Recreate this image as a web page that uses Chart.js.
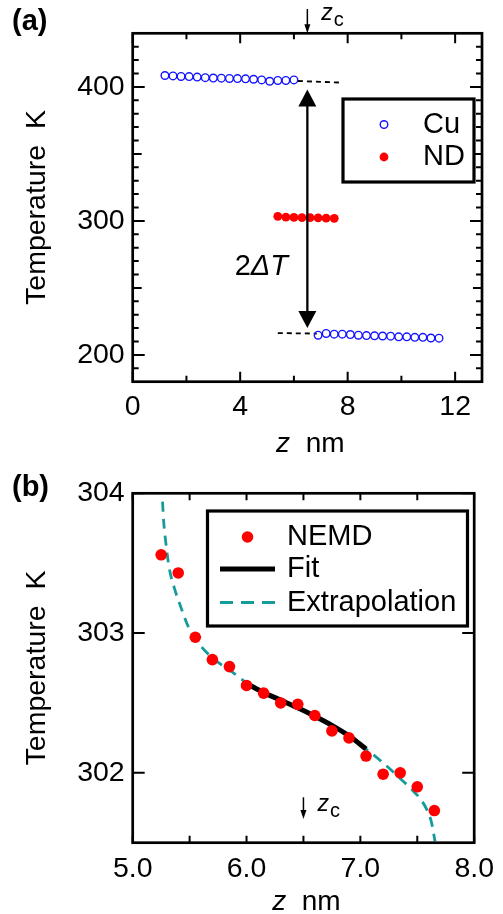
<!DOCTYPE html>
<html>
<head>
<meta charset="utf-8">
<script src="https://cdn.jsdelivr.net/npm/chart.js@4/dist/chart.umd.min.js"></script>
<style>
  html, body { margin: 0; padding: 0; background: #fff; }
  canvas { display: block; }
</style>
</head>
<body>
<canvas id="ca" width="503" height="460"></canvas>
<canvas id="cb" width="503" height="454"></canvas>
<script>
// ---------------- data: panel (a) ----------------
const cuLeftZ  = [1.2, 1.5, 1.8, 2.1, 2.4, 2.7, 3.0, 3.3, 3.6, 3.9, 4.2, 4.5, 4.8, 5.1, 5.4, 5.7, 6.0];
const cuLeftT  = [408.5, 408.2, 407.8, 407.7, 407.3, 406.9, 406.6, 406.5, 406.3, 406.2, 406.0, 405.7, 405.2, 404.2, 404.8, 404.8, 405.2];
const cuRightZ = [6.9, 7.2, 7.5, 7.8, 8.1, 8.4, 8.7, 9.0, 9.3, 9.6, 9.9, 10.2, 10.5, 10.8, 11.1, 11.4];
const cuRightT = [214.7, 216.0, 215.5, 215.5, 215.2, 214.7, 214.4, 214.2, 214.1, 214.0, 213.5, 213.5, 213.1, 213.1, 212.6, 212.5];
const ndZa = [5.4, 5.7, 6.0, 6.3, 6.6, 6.9, 7.2, 7.5];
const ndTa = [303.4, 302.8, 302.6, 302.5, 302.4, 302.3, 302.0, 301.9];
const guideUpZ = [6.15, 7.8];
const guideUpT = [404.4, 403.2];
const guideLoZ = [5.4, 6.85];
const guideLoT = [216.3, 215.9];
const zc = 6.5;
const gapArrowT = [398, 220];         // tips of the 2ΔT double arrow

const xTicksA = [0, 4, 8, 12];
const xMinorA = [2, 6, 10];
const yTicksA = [200, 300, 400];
const yMidA   = [250, 350];
const yMinorA = [190, 210, 220, 230, 240, 260, 270, 280, 290, 310, 320, 330, 340, 360, 370, 380, 390, 410, 420, 430];

// ---------------- data: panel (b) ----------------
const nemdZ = [5.25, 5.40, 5.55, 5.70, 5.85, 6.00, 6.15, 6.30, 6.45, 6.60, 6.75, 6.90, 7.05, 7.20, 7.35, 7.50, 7.65];
const nemdT = [303.56, 303.43, 302.97, 302.81, 302.76, 302.625, 302.57, 302.50, 302.49, 302.41, 302.30, 302.25, 302.12, 301.99, 302.00, 301.90, 301.73];
const fitZ = [6.0, 6.15, 6.3, 6.45, 6.6, 6.75, 6.9, 7.05];
const fitT = [302.64, 302.575, 302.52, 302.465, 302.405, 302.34, 302.265, 302.17];
const extZ = [5.262, 5.271, 5.292, 5.32, 5.363, 5.421, 5.492, 5.606, 5.721, 5.893, 6.007, 6.15, 6.3, 6.45, 6.6, 6.75, 6.9, 7.05, 7.18, 7.35, 7.44, 7.525, 7.582, 7.625, 7.656];
const extT = [303.94, 303.81, 303.64, 303.47, 303.33, 303.19, 303.04, 302.90, 302.81, 302.71, 302.64, 302.575, 302.52, 302.465, 302.405, 302.34, 302.265, 302.17, 302.085, 301.96, 301.89, 301.815, 301.74, 301.645, 301.51];
const zcArrowTb = [301.825, 301.67];

const xTicksB = [5, 6, 7, 8];
const xTickTextB = ['5.0', '6.0', '7.0', '8.0'];
const xMinorB = [5.5, 6.5, 7.5];
const yTicksB = [302, 303, 304];

// ---------------- styling ----------------
const FONT = "'Liberation Sans', Arial, Helvetica, sans-serif";
const BLUE = '#1414ff';
const RED = '#ff0000';
const TEAL = '#169b9b';
const pts = (xs, ys) => xs.map((x, i) => ({ x: x, y: ys[i] }));

function arrowHead(ctx, x, yTip, dir, w, l) {
  ctx.beginPath();
  ctx.moveTo(x, yTip);
  ctx.lineTo(x - w / 2, yTip - dir * l);
  ctx.lineTo(x + w / 2, yTip - dir * l);
  ctx.closePath();
  ctx.fill();
}

function drawFrameTicks(chart, spec) {
  const { ctx, chartArea: ca, scales: { x, y } } = chart;
  ctx.save();
  ctx.strokeStyle = '#000';
  ctx.lineWidth = 2;
  const vt = (v, len) => {
    const px = x.getPixelForValue(v);
    ctx.beginPath();
    ctx.moveTo(px, ca.bottom); ctx.lineTo(px, ca.bottom - len);
    ctx.moveTo(px, ca.top); ctx.lineTo(px, ca.top + len);
    ctx.stroke();
  };
  const ht = (v, len) => {
    const py = y.getPixelForValue(v);
    ctx.beginPath();
    ctx.moveTo(ca.left, py); ctx.lineTo(ca.left + len, py);
    ctx.moveTo(ca.right, py); ctx.lineTo(ca.right - len, py);
    ctx.stroke();
  };
  spec.xMajor.forEach(v => vt(v, spec.xMajorLen));
  spec.xMinor.forEach(v => vt(v, spec.xMinorLen));
  spec.yMajor.forEach(v => ht(v, spec.yMajorLen));
  (spec.yMid || []).forEach(v => ht(v, spec.yMidLen));
  (spec.yMinor || []).forEach(v => ht(v, spec.yMinorLen));
  ctx.lineWidth = 2.7;
  ctx.strokeRect(ca.left, ca.top, ca.right - ca.left, ca.bottom - ca.top);
  ctx.restore();
}

function drawXTitle(chart, baseline) {
  const { ctx, chartArea: ca } = chart;
  ctx.save();
  ctx.fillStyle = '#000';
  ctx.textBaseline = 'alphabetic';
  ctx.textAlign = 'left';
  ctx.font = 'italic 28px ' + FONT;
  const wz = ctx.measureText('z').width;
  ctx.font = '28px ' + FONT;
  const wn = ctx.measureText('  nm').width;
  const x0 = (ca.left + ca.right) / 2 + 3 - (wz + wn) / 2;
  ctx.font = 'italic 28px ' + FONT;
  ctx.fillText('z', x0, baseline);
  ctx.font = '28px ' + FONT;
  ctx.fillText('  nm', x0 + wz, baseline);
  ctx.restore();
}

function drawZc(ctx, x, baseline) {
  ctx.save();
  ctx.fillStyle = '#000';
  ctx.textAlign = 'left';
  ctx.textBaseline = 'alphabetic';
  ctx.font = 'italic 23px ' + FONT;
  ctx.fillText('z', x, baseline);
  const w = ctx.measureText('z').width;
  ctx.font = '20px ' + FONT;
  ctx.fillText('c', x + w + 1, baseline + 6);
  ctx.restore();
}

function baseScale(extra) {
  return Object.assign({
    type: 'linear',
    grid: { display: false, drawTicks: false },
    border: { display: false },
  }, extra);
}

// ---------------- panel (a) ----------------
const decoA = {
  id: 'decoA',
  afterDatasetsDraw(chart) {
    const { ctx, scales: { x, y } } = chart;
    // 2ΔT double arrow
    const ax = x.getPixelForValue(zc);
    const yTop = y.getPixelForValue(gapArrowT[0]);
    const yBot = y.getPixelForValue(gapArrowT[1]);
    ctx.save();
    ctx.strokeStyle = '#000'; ctx.fillStyle = '#000';
    ctx.lineWidth = 2.3;
    ctx.beginPath(); ctx.moveTo(ax, yTop + 14); ctx.lineTo(ax, yBot - 14); ctx.stroke();
    arrowHead(ctx, ax, yTop, -1, 18, 17);
    arrowHead(ctx, ax, yBot, 1, 18, 17);
    ctx.restore();
  },
  afterDraw(chart) {
    const { ctx, chartArea: ca, scales: { x, y } } = chart;
    drawFrameTicks(chart, {
      xMajor: xTicksA, xMinor: xMinorA, xMajorLen: 10, xMinorLen: 6,
      yMajor: yTicksA, yMid: yMidA, yMinor: yMinorA, yMajorLen: 12, yMidLen: 9, yMinorLen: 6
    });
    drawXTitle(chart, 452);
    ctx.save();
    ctx.fillStyle = '#000';
    // panel label
    ctx.font = 'bold 29px ' + FONT;
    ctx.textAlign = 'left'; ctx.textBaseline = 'alphabetic';
    ctx.fillText('(a)', 12, 30);
    // 2ΔT text
    const tx = x.getPixelForValue(5.78);
    const ty = y.getPixelForValue(260);
    ctx.font = 'italic 29px ' + FONT;
    const wd = ctx.measureText('ΔT').width;
    ctx.textAlign = 'right';
    ctx.fillText('ΔT', tx, ty);
    ctx.font = '29px ' + FONT;
    ctx.fillText('2', tx - wd, ty);
    // z_c marker at top
    const ax = x.getPixelForValue(zc);
    ctx.strokeStyle = '#000'; ctx.lineWidth = 1.5;
    ctx.beginPath(); ctx.moveTo(ax, 9); ctx.lineTo(ax, ca.top - 6); ctx.stroke();
    arrowHead(ctx, ax, ca.top, 1, 6, 9);
    ctx.restore();
    drawZc(ctx, ax + 14, 20);
    // legend
    ctx.save();
    ctx.fillStyle = '#fff';
    ctx.fillRect(343, 99, 131, 83);
    ctx.strokeStyle = '#000'; ctx.lineWidth = 3.2;
    ctx.strokeRect(343, 99, 131, 83);
    const ds = chart.data.datasets;
    ctx.beginPath(); ctx.arc(384, 124.5, ds[0].pointRadius, 0, Math.PI * 2);
    ctx.strokeStyle = ds[0].borderColor; ctx.lineWidth = ds[0].borderWidth; ctx.stroke();
    ctx.beginPath(); ctx.arc(384, 157, ds[2].pointRadius, 0, Math.PI * 2);
    ctx.fillStyle = ds[2].backgroundColor; ctx.fill();
    ctx.fillStyle = '#000';
    ctx.font = '29px ' + FONT; ctx.textAlign = 'left'; ctx.textBaseline = 'middle';
    ctx.fillText(ds[0].label, 423, 124.5);
    ctx.fillText(ds[2].label, 423, 156.5);
    ctx.restore();
  }
};

new Chart(document.getElementById('ca'), {
  type: 'scatter',
  data: {
    datasets: [
      { label: 'Cu', data: pts(cuLeftZ, cuLeftT), pointRadius: 3.8, borderWidth: 1.4, borderColor: BLUE, backgroundColor: 'rgba(255,255,255,0)', showLine: false },
      { label: 'Cu ', data: pts(cuRightZ, cuRightT), pointRadius: 3.8, borderWidth: 1.4, borderColor: BLUE, backgroundColor: 'rgba(255,255,255,0)', showLine: false },
      { label: 'ND', data: pts(ndZa, ndTa), pointRadius: 4.4, borderWidth: 0, borderColor: RED, backgroundColor: RED, showLine: false },
      { label: 'guide1', data: pts(guideUpZ, guideUpT), showLine: true, pointRadius: 0, borderColor: '#000', borderWidth: 1.8, borderDash: [5, 4] },
      { label: 'guide2', data: pts(guideLoZ, guideLoT), showLine: true, pointRadius: 0, borderColor: '#000', borderWidth: 1.8, borderDash: [5, 4] }
    ]
  },
  options: {
    responsive: false,
    animation: false,
    devicePixelRatio: 1,
    layout: { padding: { left: 0, top: 33.3, right: 21, bottom: 0 } },
    plugins: { legend: { display: false }, tooltip: { enabled: false } },
    scales: {
      x: baseScale({
        min: 0, max: 13,
        afterBuildTicks: s => { s.ticks = xTicksA.map(v => ({ value: v })); },
        afterFit: s => { s.height = 78.3; },
        ticks: { font: { family: FONT, size: 28.5 }, color: '#000', padding: 8, maxRotation: 0, autoSkip: false },
        title: { display: false }
      }),
      y: baseScale({
        min: 180, max: 440,
        afterBuildTicks: s => { s.ticks = yTicksA.map(v => ({ value: v })); },
        afterFit: s => { s.width = 132.7; },
        ticks: { font: { family: FONT, size: 28.5 }, color: '#000', padding: 8, autoSkip: false },
        title: { display: true, text: 'Temperature  K', color: '#000', font: { family: FONT, size: 28.5 }, padding: { top: 20.5, bottom: 0 } }
      })
    }
  },
  plugins: [decoA]
});

// ---------------- panel (b) ----------------
const decoB = {
  id: 'decoB',
  afterDraw(chart) {
    const { ctx, scales: { x, y } } = chart;
    drawFrameTicks(chart, {
      xMajor: xTicksB, xMinor: xMinorB, xMajorLen: 7, xMinorLen: 7,
      yMajor: yTicksB, yMajorLen: 12
    });
    drawXTitle(chart, 450);
    ctx.save();
    ctx.fillStyle = '#000';
    ctx.font = 'bold 29px ' + FONT;
    ctx.textAlign = 'left'; ctx.textBaseline = 'alphabetic';
    ctx.fillText('(b)', 12, 36);
    // z_c marker
    const ax = x.getPixelForValue(zc);
    const y0 = y.getPixelForValue(zcArrowTb[0]);
    const y1 = y.getPixelForValue(zcArrowTb[1]);
    ctx.strokeStyle = '#000'; ctx.lineWidth = 1.5;
    ctx.beginPath(); ctx.moveTo(ax, y0); ctx.lineTo(ax, y1 - 6); ctx.stroke();
    arrowHead(ctx, ax, y1, 1, 6, 9);
    ctx.restore();
    drawZc(ctx, ax + 14, 351);
    // legend
    const ds = chart.data.datasets;
    ctx.save();
    ctx.fillStyle = '#fff';
    ctx.fillRect(207.5, 51, 260, 115);
    ctx.strokeStyle = '#000'; ctx.lineWidth = 3.2;
    ctx.strokeRect(207.5, 51, 260, 115);
    ctx.beginPath(); ctx.arc(247.5, 77, ds[0].pointRadius, 0, Math.PI * 2);
    ctx.fillStyle = ds[0].backgroundColor; ctx.fill();
    ctx.strokeStyle = ds[1].borderColor; ctx.lineWidth = ds[1].borderWidth;
    ctx.beginPath(); ctx.moveTo(220, 109); ctx.lineTo(275, 109); ctx.stroke();
    ctx.strokeStyle = ds[2].borderColor; ctx.lineWidth = ds[2].borderWidth;
    ctx.setLineDash([13, 8]);
    ctx.beginPath(); ctx.moveTo(220, 142.5); ctx.lineTo(275, 142.5); ctx.stroke();
    ctx.setLineDash([]);
    ctx.fillStyle = '#000';
    ctx.font = '29px ' + FONT; ctx.textAlign = 'left'; ctx.textBaseline = 'middle';
    ctx.fillText(ds[0].label, 287, 77);
    ctx.fillText(ds[1].label, 287, 109);
    ctx.fillText(ds[2].label, 287, 142.5);
    ctx.restore();
  }
};

new Chart(document.getElementById('cb'), {
  type: 'scatter',
  data: {
    datasets: [
      { label: 'NEMD', data: pts(nemdZ, nemdT), pointRadius: 5.8, borderWidth: 0, borderColor: RED, backgroundColor: RED, showLine: false },
      { label: 'Fit', data: pts(fitZ, fitT), showLine: true, pointRadius: 0, borderColor: '#000', borderWidth: 5, cubicInterpolationMode: 'monotone' },
      { label: 'Extrapolation', data: pts(extZ, extT), showLine: true, pointRadius: 0, borderColor: TEAL, borderWidth: 2.8, borderDash: [10, 7], cubicInterpolationMode: 'monotone' }
    ]
  },
  options: {
    responsive: false,
    animation: false,
    devicePixelRatio: 1,
    layout: { padding: { left: 0, top: 33.3, right: 21, bottom: 0 } },
    plugins: { legend: { display: false }, tooltip: { enabled: false } },
    scales: {
      x: baseScale({
        min: 5, max: 8,
        afterBuildTicks: s => { s.ticks = xTicksB.map(v => ({ value: v })); },
        afterFit: s => { s.height = 71.3; },
        ticks: { font: { family: FONT, size: 28.5 }, color: '#000', padding: 9, maxRotation: 0, autoSkip: false,
                 callback: (v) => xTickTextB[xTicksB.indexOf(v)] },
        title: { display: false }
      }),
      y: baseScale({
        min: 301.5, max: 304,
        afterBuildTicks: s => { s.ticks = yTicksB.map(v => ({ value: v })); },
        afterFit: s => { s.width = 132.7; },
        ticks: { font: { family: FONT, size: 28.5 }, color: '#000', padding: 8, autoSkip: false },
        title: { display: true, text: 'Temperature  K', color: '#000', font: { family: FONT, size: 28.5 }, padding: { top: 20.5, bottom: 0 } }
      })
    }
  },
  plugins: [decoB]
});
</script>
</body>
</html>
